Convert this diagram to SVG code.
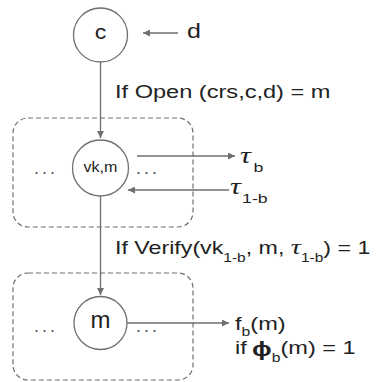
<svg xmlns="http://www.w3.org/2000/svg" width="376" height="382" viewBox="0 0 376 382">
  <style>
    .node { fill: #ffffff; stroke: #6f6f6f; stroke-width: 1.3; }
    .box { fill: none; stroke: #6f6f6f; stroke-width: 1.2; stroke-dasharray: 5 3; }
    .edge { fill: none; stroke: #6f6f6f; stroke-width: 1.3; }
    .lbl { font-family: "Liberation Sans", Arial, sans-serif; font-size: 18px; fill: #222222; }
    .sub { font-size: 12px; }
    .sub2 { font-size: 13.5px; }
    .tau { font-family: "Liberation Serif", "Times New Roman", serif; font-style: italic; font-size: 23px; }
    .phi { font-weight: bold; font-size: 20px; }
    .dots { font-family: "Liberation Sans", Arial, sans-serif; font-size: 18px; fill: #555555; letter-spacing: 3px; }
  </style>
  <defs>
    <marker id="arrow" viewBox="0 0 10 10" refX="10" refY="5" markerWidth="7" markerHeight="7" markerUnits="userSpaceOnUse" orient="auto">
      <path d="M0,0 L10,5 L0,10 z" fill="#6f6f6f"/>
    </marker>
  </defs>

  <rect width="376" height="382" fill="#ffffff"/>

  <!-- dashed groupings -->
  <g id="group-upper">
    <rect class="box" x="13" y="118" width="180" height="109" rx="15"/>
    <text class="dots" x="34" y="174">...</text>
    <text class="dots" x="136" y="174">...</text>
  </g>
  <g id="group-lower">
    <rect class="box" x="13" y="273" width="180" height="107" rx="15"/>
    <text class="dots" x="34" y="332">...</text>
    <text class="dots" x="136" y="332">...</text>
  </g>

  <!-- connectors -->
  <g id="connectors">
    <line class="edge" x1="178" y1="33" x2="143" y2="33" marker-end="url(#arrow)"/>
    <line class="edge" x1="100.5" y1="62" x2="100.5" y2="138" marker-end="url(#arrow)"/>
    <line class="edge" x1="137" y1="156" x2="235" y2="156" marker-end="url(#arrow)"/>
    <line class="edge" x1="229" y1="190" x2="128" y2="190" marker-end="url(#arrow)"/>
    <line class="edge" x1="100.5" y1="196" x2="100.5" y2="295" marker-end="url(#arrow)"/>
    <line class="edge" x1="127" y1="323" x2="229" y2="323" marker-end="url(#arrow)"/>
  </g>

  <!-- nodes -->
  <g id="node-c">
    <circle class="node" cx="100.5" cy="35" r="27"/>
    <text class="lbl" transform="translate(100.5,39) scale(1.1,1)" text-anchor="middle" style="font-size:21px">c</text>
  </g>
  <g id="node-d">
    <text class="lbl" transform="translate(187,38) scale(1.25,1)" style="font-size:20px">d</text>
  </g>
  <g id="node-vk">
    <circle class="node" cx="100.5" cy="168" r="28"/>
    <text class="lbl" transform="translate(100.5,172) scale(1.15,1)" text-anchor="middle" style="font-size:14px">vk,m</text>
  </g>
  <g id="node-m">
    <circle class="node" cx="100.5" cy="323" r="26.5"/>
    <text class="lbl" transform="translate(100.5,328)" text-anchor="middle" style="font-size:24px">m</text>
  </g>

  <!-- edge labels -->
  <g id="label-open">
    <text class="lbl" transform="translate(115,98) scale(1.31,1)">If Open (crs,c,d) = m</text>
  </g>
  <g id="label-tau-b">
    <text class="lbl" transform="translate(240,163) scale(1.31,1)"><tspan class="tau">τ</tspan><tspan class="sub2" dx="2" dy="9">b</tspan></text>
  </g>
  <g id="label-tau-1b">
    <text class="lbl" transform="translate(230,194) scale(1.31,1)"><tspan class="tau">τ</tspan><tspan class="sub2" dx="1" dy="9">1-b</tspan></text>
  </g>
  <g id="label-verify">
    <text class="lbl" transform="translate(115,254) scale(1.29,1)">If Verify(vk<tspan class="sub" dy="8">1-b</tspan><tspan dy="-8">, m, </tspan><tspan class="tau" style="font-size:22px">τ</tspan><tspan class="sub" dy="8">1-b</tspan><tspan dy="-8">) = 1</tspan></text>
  </g>
  <g id="label-output">
    <text class="lbl" transform="translate(235,330) scale(1.31,1)">f<tspan class="sub" dy="6">b</tspan><tspan dy="-6">(m)</tspan></text>
    <text class="lbl" transform="translate(235,354) scale(1.31,1)">if <tspan class="phi" dx="-1" dy="2">ϕ</tspan><tspan class="sub" dy="6">b</tspan><tspan dy="-8">(m) = 1</tspan></text>
  </g>
</svg>
